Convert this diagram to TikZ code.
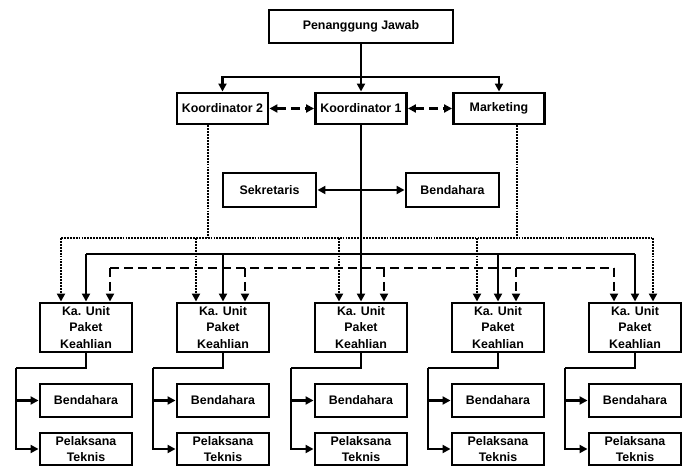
\documentclass[tikz,border=0pt]{standalone}
\usepackage{fontspec}
\setmainfont{Liberation Sans}
\usetikzlibrary{arrows.meta}

\tikzset{
  box/.style={draw, line width=2.2pt, inner sep=0pt, align=center,
    minimum width=69pt, font=\bfseries\fontsize{9.3pt}{12.4pt}\selectfont},
  conn/.style={line width=1.8pt},
  thinconn/.style={line width=1.1pt},
  dotline/.style={line width=2pt, dash pattern=on 1.4pt off 0.8pt},
  dashline/.style={line width=2pt, dash pattern=on 6.5pt off 4pt},
  >={Triangle[length=6pt,width=6pt]}
}

\begin{document}
\begin{tikzpicture}[x=0.75pt,y=-0.75pt]
    \useasboundingbox (0,0) rectangle (686,466);
    % top level
    \node[box, minimum width=138pt, minimum height=24.75pt] (pj) at (361,26.5) {Penanggung Jawab};
    \node[box, minimum width=68.25pt, minimum height=23.25pt] (k2) at (222.5,108.5) {Koordinator 2};
    \node[box, minimum width=68.25pt, minimum height=23.25pt] (k1) at (361,108.5) {Koordinator 1};
    \node[box, minimum width=68.25pt, minimum height=23.25pt] (mk) at (499,108.5) {Marketing};
    \node[box, minimum width=69.75pt, minimum height=25.5pt] (sek) at (269.5,190) {Sekretaris};
    \node[box, minimum width=69.75pt, minimum height=25.5pt] (ben) at (452.5,190) {Bendahara};

    \coordinate (pjbus) at (361,77);
    \draw[conn,->] (pj.south) -- (k1.north);
    \draw[conn,->] (pjbus) -| (k2.north);
    \draw[conn,->] (pjbus) -| (mk.north);
    \draw[dashline,<->] (k2.east) -- (k1.west);
    \draw[dashline,<->] (k1.east) -- (mk.west);
    \draw[conn,<->] (sek.east) -- (ben.west);

    % bus lines
    \coordinate (dk2) at (208,238);
    \coordinate (dmk) at (517,238);
    \draw[dotline] (k2.south -| dk2) -- (dk2);
    \draw[dotline] (mk.south -| dmk) -- (dmk);

    % units
    \foreach \i/\x/\dt/\dd in {1/86/61/110, 2/223/196/245, 3/361/339/384, 4/498/477/516, 5/635/653/614}{
      \node[box, minimum height=36.75pt] (ku\i) at (\x,327.5) {Ka. Unit\\Paket\\Keahlian};
      \node[box, minimum height=24.75pt] (bd\i) at (\x,400.5) {Bendahara};
      \node[box, minimum height=24pt] (pk\i) at (\x,449) {Pelaksana\\Teknis};
      \coordinate (sb\i) at (\x,254);
      \coordinate (dt\i) at (\dt,238);
      \coordinate (dd\i) at (\dd,268);
      \coordinate (br\i) at (\x-70,368);
      \draw[dotline,->] (dt\i) -- (dt\i |- ku\i.north);
      \draw[dashline,->] (dd\i) -- (dd\i |- ku\i.north);
      \draw[conn] (ku\i.south) |- (br\i);
      \draw[conn,->] (br\i) |- (pk\i.west);
      \draw[conn,->] (br\i |- bd\i.west) -- (bd\i.west);
    }
    \draw[dotline] (dt1) -- (dt5);
    \draw[dashline] (dd1) -- (dd5);
    \draw[thinconn] (sb1) -- (sb5);
    \foreach \i in {1,2,4,5}{
      \draw[conn,->] (sb\i) -- (ku\i.north);
    }
    \draw[conn,->] (k1.south) -- (ku3.north);
\end{tikzpicture}
\end{document}
